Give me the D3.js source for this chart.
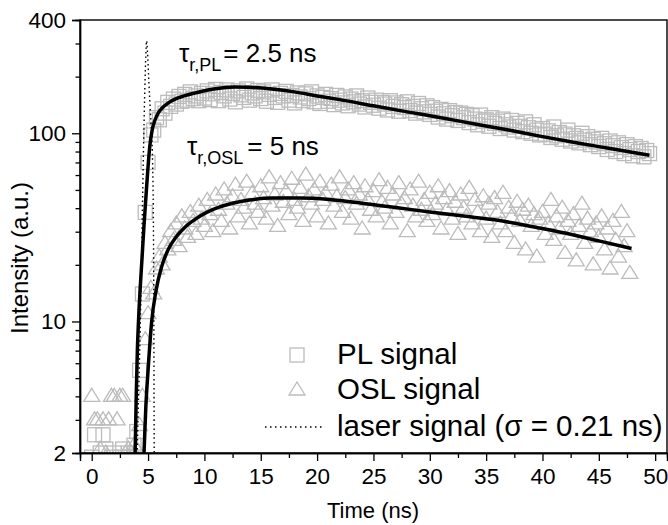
<!DOCTYPE html>
<html>
<head>
<meta charset="utf-8">
<script src="https://cdn.jsdelivr.net/npm/d3@7"></script>
<style>
  body { margin: 0; background: #fff; }
  svg { display: block; font-family: Arial, "Liberation Sans", sans-serif; }
</style>
</head>
<body>
<div id="chart"></div>
<script>
// sampling step of the measured transients (ns)
var timeStep = 0.25;

// PL signal, one value every 0.25 ns starting at 0 ns
var plValues = [
  1.9, 2.5, 1.8, 2.0, 2.5, 2.1, 1.8, 1.9, 2.0, 1.8, 1.9, 2.1, 1.8, 2.0, 1.9, 2.2, 2.6, 5.5, 14, 38,
  70, 98, 104, 121, 118, 135, 128, 146, 139, 152, 143, 157, 148, 161, 150, 166, 153, 158, 149, 163,
  154, 168, 151, 162, 171, 149, 165, 158, 170, 152, 163, 147, 168, 160, 155, 172, 150, 164, 158, 169,
  153, 166, 148, 161, 170, 155, 146, 163, 158, 167, 150, 159, 145, 164, 156, 149, 162, 153, 166, 147,
  158, 144, 155, 161, 148, 153, 142, 159, 150, 145, 156, 140, 152, 147, 158, 143, 149, 138, 154, 146,
  141, 150, 136, 146, 143, 133, 149, 139, 145, 131, 142, 137, 147, 132, 139, 128, 144, 135, 130, 140,
  126, 137, 131, 122, 134, 127, 119, 132, 124, 129, 117, 128, 121, 126, 114, 124, 119, 111, 125, 116,
  118, 109, 121, 113, 116, 106, 119, 111, 108, 117, 104, 113, 109, 102, 115, 107, 100, 111, 104, 98,
  106, 99, 103, 95, 108, 97, 101, 93, 99, 104, 91, 97, 94, 89, 100, 92, 96, 87, 93, 90,
  85, 94, 88, 82, 91, 86, 80, 89, 84, 78, 87, 82, 76, 85, 80, 83, 75, 81, 78
];

// OSL signal, same time base
var oslValues = [
  4, 3, 3, 2.1, 3, 2, 3, 4, 4, 3, 4, 4, 2, 2.1, 2, 2.2, 2.1, 2.8, 4, 8,
  11, 15, 14, 19, 22, 20, 26, 24, 30, 27, 33, 25, 36, 31, 28, 38, 34, 29, 41, 35,
  32, 44, 37, 30, 47, 39, 34, 50, 42, 31, 46, 53, 36, 44, 40, 55, 33, 48, 42, 38,
  52, 45, 35, 58, 41, 47, 32, 54, 43, 49, 37, 57, 44, 40, 51, 34, 60, 46, 42, 50,
  36, 55, 44, 48, 33, 53, 41, 46, 58, 38, 45, 50, 35, 54, 42, 47, 31, 52, 44, 39,
  49, 36, 56, 43, 40, 51, 33, 47, 38, 54, 42, 45, 30, 50, 41, 36, 55, 39, 44, 34,
  48, 37, 42, 52, 31, 45, 39, 49, 35, 43, 29, 47, 40, 36, 51, 33, 44, 38, 30, 46,
  35, 42, 28, 45, 38, 33, 48, 30, 40, 36, 26, 43, 34, 39, 24, 41, 32, 37, 22, 35,
  38, 29, 33, 44, 27, 36, 31, 40, 23, 34, 29, 37, 21, 32, 42, 26, 35, 30, 20, 33,
  28, 36, 24, 31, 19, 34, 27, 22, 38, 25, 30, 18
];

// fitted curves [time, intensity]
var plFit = [
  [3.7, 1.5], [3.85, 2], [3.95, 4], [4.05, 7], [4.15, 10], [4.3, 15], [4.45, 21], [4.62, 31],
  [4.79, 44], [4.97, 63], [5.15, 85], [5.35, 103], [5.6, 117], [5.9, 128], [6.3, 137],
  [6.8, 145], [7.4, 152], [8.2, 158], [9.2, 164], [10.3, 170], [11.5, 174], [12.7, 176],
  [14.0, 175.5], [16.0, 172], [18.0, 166], [20.0, 158], [22.0, 151], [25.0, 140], [28.0, 130],
  [31.0, 121], [34.0, 112], [37.0, 104], [40.0, 96], [43.0, 89], [46.0, 83], [49.5, 76.5]
];

var oslFit = [
  [4.55, 1.6], [4.64, 2], [4.8, 3.5], [5.0, 5.5], [5.32, 10], [5.7, 14.5], [6.2, 19.5],
  [6.8, 24.2], [7.5, 28.2], [8.3, 31.8], [9.2, 35], [10.2, 38], [11.3, 40.5], [12.5, 42.5],
  [14.0, 44.2], [16.0, 45.3], [18.5, 45.3], [21.1, 44.5], [24.0, 42.5], [27.0, 40.3],
  [30.0, 38.2], [33.0, 36.3], [35.9, 34.6], [39.0, 32], [42.0, 29.5], [45.0, 26.8], [47.9, 24.4]
];

// laser pulse [time, intensity]
var laser = [
  [4.0, 1.5], [4.1, 3], [4.2, 5], [4.3, 9], [4.4, 18], [4.5, 40], [4.6, 85], [4.7, 160],
  [4.8, 260], [4.87, 310], [4.95, 270], [5.05, 200], [5.15, 150], [5.25, 115], [5.32, 100],
  [5.4, 70], [5.47, 35], [5.51, 12], [5.53, 4], [5.55, 1.5]
];

var xTicks = [0, 5, 10, 15, 20, 25, 30, 35, 40, 45, 50];
var xMinorTicks = [2.5, 7.5, 12.5, 17.5, 22.5, 27.5, 32.5, 37.5, 42.5, 47.5];
var yTicks = [2, 10, 100, 400];
var yMinorTicks = [3, 4, 5, 6, 7, 8, 9, 20, 30, 40, 50, 60, 70, 80, 90, 200, 300];

var W = 668, H = 525;
var margin = { top: 20, right: 1, bottom: 72, left: 80 };
var width = W - margin.left - margin.right,
    height = H - margin.top - margin.bottom;

var svg = d3.select("#chart").append("svg")
    .attr("width", W)
    .attr("height", H);

var g = svg.append("g")
    .attr("transform", "translate(" + margin.left + "," + margin.top + ")");

var x = d3.scaleLinear().domain([-1.04, 51.05]).range([0, width]);
var y = d3.scaleLog().domain([2, 400]).range([height, 0]);

g.append("clipPath").attr("id", "clip")
  .append("rect").attr("width", width).attr("height", height);

var plot = g.append("g").attr("clip-path", "url(#clip)");

var markerColor = "#bcbcbc";

// PL squares
var plPts = plValues.map(function (v, i) { return { t: i * timeStep, v: v }; });
plot.selectAll(".pl").data(plPts).enter().append("rect")
    .attr("class", "pl")
    .attr("x", function (d) { return x(d.t) - 7; })
    .attr("y", function (d) { return y(d.v) - 7; })
    .attr("width", 14).attr("height", 14)
    .attr("fill", "none")
    .attr("stroke", markerColor)
    .attr("stroke-width", 1.3);

// OSL triangles
var tri = "M0,-8L8,5L-8,5Z";
var oslPts = oslValues.map(function (v, i) { return { t: i * timeStep, v: v }; });
plot.selectAll(".osl").data(oslPts).enter().append("path")
    .attr("class", "osl")
    .attr("d", tri)
    .attr("transform", function (d) { return "translate(" + x(d.t) + "," + y(d.v) + ")"; })
    .attr("fill", "none")
    .attr("stroke", markerColor)
    .attr("stroke-width", 1.3);

var line = d3.line()
    .x(function (d) { return x(d[0]); })
    .y(function (d) { return y(d[1]); })
    .curve(d3.curveMonotoneX);

// laser pulse (dotted)
plot.append("path")
    .datum(laser)
    .attr("d", line)
    .attr("fill", "none")
    .attr("stroke", "#000")
    .attr("stroke-width", 1.4)
    .attr("stroke-dasharray", "1.5,3");

// fits
[plFit, oslFit].forEach(function (f) {
  plot.append("path")
      .datum(f)
      .attr("d", line)
      .attr("fill", "none")
      .attr("stroke", "#000")
      .attr("stroke-width", 3.5);
});

// frame
g.append("rect")
    .attr("width", width).attr("height", height)
    .attr("fill", "none").attr("stroke", "#000").attr("stroke-width", 1.4);

// x axis
var xAxis = g.append("g").attr("transform", "translate(0," + height + ")");
xAxis.call(d3.axisBottom(x).tickValues(xTicks).tickSize(8).tickPadding(7).tickFormat(d3.format("d")));
xAxis.append("g").call(d3.axisBottom(x).tickValues(xMinorTicks).tickSize(5).tickFormat(""));

// y axis
var yAxis = g.append("g");
yAxis.call(d3.axisLeft(y).tickValues(yTicks).tickSize(8).tickPadding(6).tickFormat(d3.format("d")));
yAxis.append("g").call(d3.axisLeft(y).tickValues(yMinorTicks).tickSize(4.5).tickFormat(""));

g.selectAll(".domain").attr("stroke-width", 1.4);
g.selectAll(".tick line").attr("stroke-width", 1.3);
g.selectAll(".tick text")
    .attr("font-size", 22.5)
    .attr("font-family", "Arial, 'Liberation Sans', sans-serif")
    .attr("fill", "#000");

// axis titles
svg.append("text")
    .attr("x", 373).attr("y", 518)
    .attr("text-anchor", "middle")
    .attr("font-size", 22)
    .text("Time (ns)");

svg.append("text")
    .attr("transform", "translate(28,258) rotate(-90)")
    .attr("text-anchor", "middle")
    .attr("font-size", 24)
    .text("Intensity (a.u.)");

// annotations
function tauLabel(px, py, sub, rest, gap) {
  var t = svg.append("text").attr("x", px).attr("y", py).attr("font-size", 26);
  t.append("tspan").text("\u03c4");
  t.append("tspan").attr("font-size", 18).attr("dy", 9).text(sub);
  t.append("tspan").attr("dy", -9).attr("dx", gap).text(rest);
}
tauLabel(179, 62, "r,PL", "= 2.5 ns", 2);
tauLabel(187, 155, "r,OSL", "= 5 ns", 4);

// legend
var lg = svg.append("g");
lg.append("rect").attr("x", 290).attr("y", 348).attr("width", 14).attr("height", 14)
  .attr("fill", "none").attr("stroke", markerColor).attr("stroke-width", 1.3);
lg.append("path").attr("d", tri).attr("transform", "translate(297,390)")
  .attr("fill", "none").attr("stroke", markerColor).attr("stroke-width", 1.3);
lg.append("line").attr("x1", 265).attr("x2", 325).attr("y1", 427).attr("y2", 427)
  .attr("stroke", "#000").attr("stroke-width", 1.4).attr("stroke-dasharray", "1.5,3.5");
var legendLabels = ["PL signal", "OSL signal", "laser signal (\u03c3 = 0.21 ns)"];
var legendY = [364, 399, 436];
legendLabels.forEach(function (s, i) {
  lg.append("text").attr("x", 337).attr("y", legendY[i]).attr("font-size", 29.5).text(s);
});
</script>
</body>
</html>
